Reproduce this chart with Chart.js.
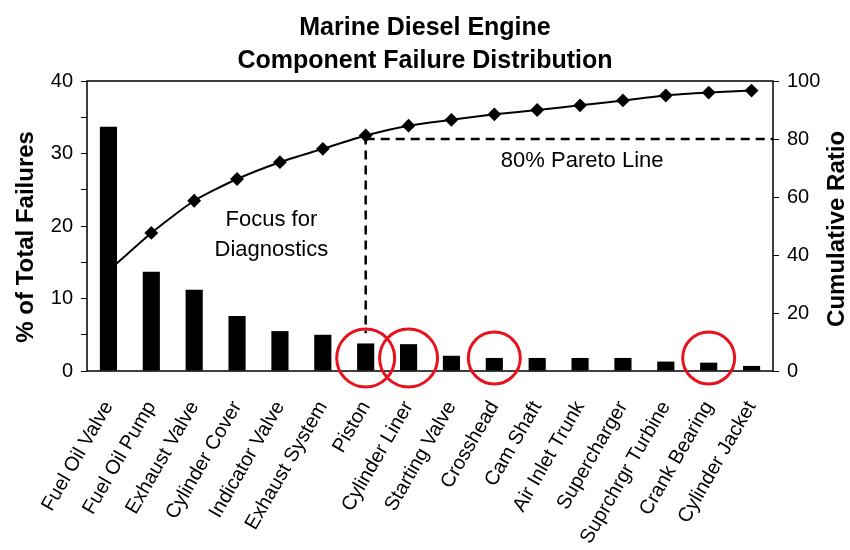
<!DOCTYPE html>
<html>
<head>
<meta charset="utf-8">
<script src="https://cdn.jsdelivr.net/npm/chart.js@4.4.0/dist/chart.umd.min.js"></script>
<style>
  html, body { margin: 0; padding: 0; background: #fff; }
  #wrap { width: 850px; height: 550px; }
</style>
</head>
<body>
<div id="wrap"><canvas id="chart1"></canvas></div>
<script>
// data
var components = [
  "Fuel Oil Valve", "Fuel Oil Pump", "Exhaust Valve", "Cylinder Cover",
  "Indicator Valve", "Exhaust System", "Piston", "Cylinder Liner",
  "Starting Valve", "Crosshead", "Cam Shaft", "Air Inlet Trunk",
  "Supercharger", "Suprchrgr Turbine", "Crank Bearing", "Cylinder Jacket"
];
var failurePct = [33.7, 13.7, 11.2, 7.6, 5.5, 5.0, 3.8, 3.7, 2.1, 1.8, 1.8, 1.8, 1.8, 1.3, 1.15, 0.7];
var cumulativeRatio = [34.5, 47.6, 58.7, 66.2, 72.0, 76.6, 81.2, 84.6, 86.6, 88.5, 90.0, 91.6, 93.3, 95.0, 96.0, 96.7];
var leftTicks = [0, 10, 20, 30, 40];
var rightTicks = [0, 20, 40, 60, 80, 100];
var paretoLevel = 80;
var paretoIndex = 6;          // Piston
var circled = [6, 7, 9, 14];  // Piston, Cylinder Liner, Crosshead, Crank Bearing

var FONT = "'Liberation Sans', Arial, Helvetica, sans-serif";

// frame, axis titles, pareto lines, notes and red circles
var paretoNotes = {
  id: "paretoNotes",
  afterDraw: function (chart) {
    var ctx = chart.ctx;
    var a = chart.chartArea;
    var x = chart.scales.x, y = chart.scales.y, y1 = chart.scales.y1;

    ctx.save();
    ctx.strokeStyle = "#000";
    ctx.lineWidth = 1.5;
    ctx.strokeRect(a.left, a.top, a.right - a.left, a.bottom - a.top);

    // axis titles, both reading bottom to top
    ctx.fillStyle = "#000";
    ctx.font = "bold 24px " + FONT;
    ctx.textAlign = "center";
    ctx.textBaseline = "middle";
    ctx.save();
    ctx.translate(26, y.getPixelForValue(18.5));
    ctx.rotate(-Math.PI / 2);
    ctx.fillText("% of Total Failures", 0, 0);
    ctx.restore();
    ctx.save();
    ctx.translate(837, y1.getPixelForValue(49));
    ctx.rotate(-Math.PI / 2);
    ctx.fillText("Cumulative Ratio", 0, 0);
    ctx.restore();

    // dashed pareto lines
    var px = x.getPixelForValue(paretoIndex);
    var py = y1.getPixelForValue(paretoLevel);
    ctx.setLineDash([9, 6]);
    ctx.lineWidth = 2.5;
    ctx.beginPath();
    ctx.moveTo(px, y1.getPixelForValue(cumulativeRatio[paretoIndex]));
    ctx.lineTo(px, y1.getPixelForValue(13));
    ctx.moveTo(px, py);
    ctx.lineTo(a.right, py);
    ctx.stroke();
    ctx.setLineDash([]);

    // notes
    ctx.font = "22px " + FONT;
    ctx.fillText("80% Pareto Line", x.getPixelForValue(11.05), py + 22);
    var fx = x.getPixelForValue(3.8);
    ctx.fillText("Focus for", fx, y.getPixelForValue(20.8));
    ctx.fillText("Diagnostics", fx, y.getPixelForValue(16.7));

    // red circles
    ctx.strokeStyle = "#e8121c";
    ctx.lineWidth = 3;
    circled.forEach(function (i, k) {
      var r = k < 2 ? 29 : 26;
      ctx.beginPath();
      ctx.arc(x.getPixelForValue(i), y.getPixelForValue(1.8), r, 0, Math.PI * 2);
      ctx.stroke();
    });
    ctx.restore();
  },
};

var ctx = document.getElementById("chart1").getContext("2d");
var myChart = new Chart(ctx, {
  type: "bar",
  data: {
    labels: components,
    datasets: [
      {
        type: "line",
        label: "Cumulative Ratio",
        data: cumulativeRatio,
        yAxisID: "y1",
        borderColor: "#000",
        backgroundColor: "#000",
        borderWidth: 2,
        tension: 0.2,
        pointStyle: "rectRot",
        pointRadius: 5.5,
        order: 0,
      },
      {
        label: "% of Total Failures",
        data: failurePct,
        yAxisID: "y",
        backgroundColor: "#000",
        borderWidth: 0,
        barPercentage: 0.4,
        categoryPercentage: 1,
        order: 1,
      },
    ],
  },
  options: {
    responsive: true,
    maintainAspectRatio: false,
    animation: false,
    layout: { padding: 0 },
    plugins: {
      legend: { display: false },
      tooltip: { enabled: false },
      title: {
        display: true,
        text: ["Marine Diesel Engine", "Component Failure Distribution"],
        color: "#000",
        font: { family: FONT, size: 25, weight: "bold", lineHeight: "33px" },
        padding: { top: 12, bottom: 3 },
      },
    },
    scales: {
      x: {
        grid: { display: false },
        border: { display: false },
        ticks: {
          color: "#000",
          font: { family: FONT, size: 20 },
          autoSkip: false,
          minRotation: 60,
          maxRotation: 60,
          padding: 18,
        },
        afterFit: function (s) { s.height = 179; },
      },
      y: {
        position: "left",
        min: 0,
        max: 40,
        border: { display: false },
        grid: { drawOnChartArea: false, color: "#000", tickLength: 6 },
        ticks: {
          stepSize: 5,
          color: "#000",
          font: { family: FONT, size: 20 },
          padding: 8,
          callback: function (v) { return leftTicks.indexOf(v) >= 0 ? v : ""; },
        },
        afterFit: function (s) { s.width = 87; },
      },
      y1: {
        position: "right",
        min: 0,
        max: 100,
        border: { display: false },
        grid: { drawOnChartArea: false, color: "#000", tickLength: 6 },
        ticks: {
          stepSize: 20,
          color: "#000",
          font: { family: FONT, size: 20 },
          padding: 8,
          callback: function (v) { return rightTicks.indexOf(v) >= 0 ? v : ""; },
        },
        afterFit: function (s) { s.width = 77; },
      },
    },
  },
  plugins: [paretoNotes],
});
</script>
</body>
</html>
